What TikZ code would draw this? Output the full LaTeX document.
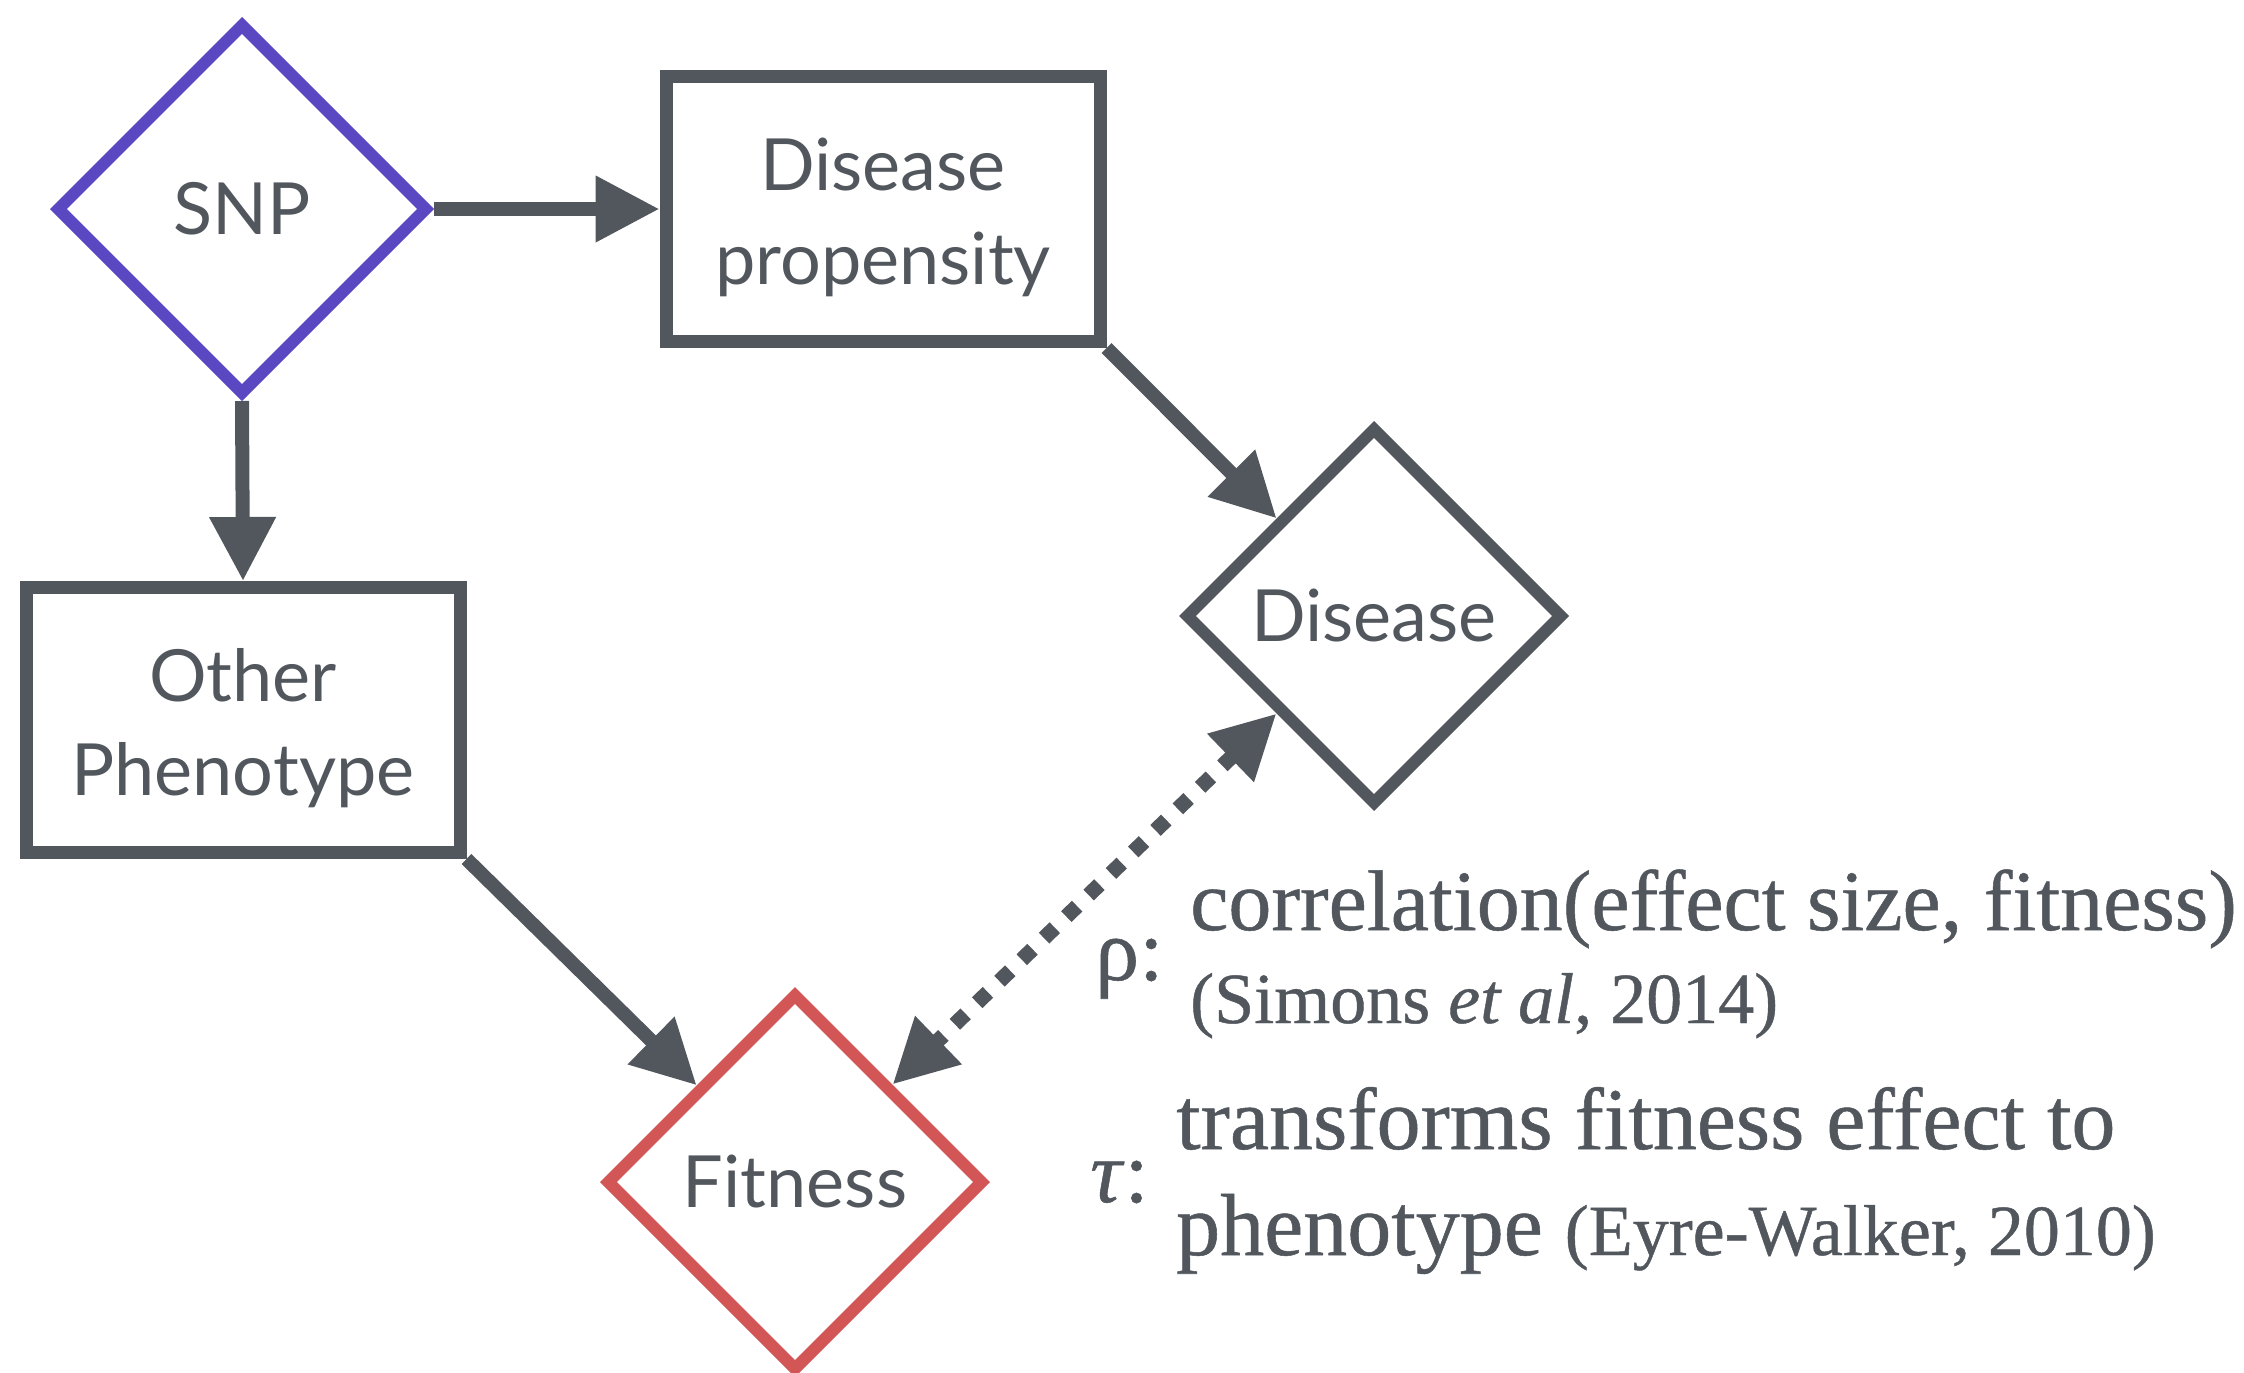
\documentclass[tikz,border=0pt]{standalone}
\usepackage{fontspec}
\setsansfont{Lato}
\newfontfamily\seriffont[FakeBold=0.6]{Liberation Serif}
\usetikzlibrary{shapes.geometric,arrows.meta}
\definecolor{ink}{HTML}{52575E}
\definecolor{snpc}{HTML}{5A47C2}
\definecolor{fitc}{HTML}{D25656}
\begin{document}
\begin{tikzpicture}[x=1pt,y=-1pt,
  lbl/.style={font=\sffamily\fontsize{72}{94}\selectfont, text=ink, align=center},
  dia/.style={lbl, diamond, aspect=1, draw, line width=12pt, inner sep=0pt, minimum width=372pt, minimum height=372pt},
  boxn/.style={lbl, rectangle, draw=ink, line width=13pt, minimum width=434pt, minimum height=265pt, inner sep=0pt, text height=164pt},
  conn/.style={draw=ink, line width=14pt, -{Triangle[length=64pt,width=63pt]}},
  dotc/.style={draw=ink, line width=15pt, dash pattern=on 15pt off 16pt, {Triangle[length=64pt,width=63pt]}-{Triangle[length=64pt,width=63pt]}},
  big/.style={inner sep=0pt, anchor=base west, text=ink, font=\seriffont\fontsize{88}{100}\selectfont},
  small/.style={inner sep=0pt, anchor=base west, text=ink, font=\seriffont\fontsize{72}{84}\selectfont},
]
\useasboundingbox (0,0) rectangle (2244,1373);
\node[dia, draw=snpc] (snp) at (242,209) {SNP};
\node[boxn] (dp) at (883,209) {Disease\\propensity};
\node[boxn] (op) at (243,720) {Other\\Phenotype};
\node[dia, draw=ink, minimum width=378pt, minimum height=378pt] (dis) at (1374,616) {Disease};
\node[dia, draw=fitc, minimum width=378pt, minimum height=378pt] (fit) at (795,1182) {Fitness};

\draw[conn] (snp.east) -- (dp.west);
\draw[conn] (snp.south) -- (op.north);
\draw[conn] (dp.south east) -- (dis);
\draw[conn] (op.south east) -- (fit);
\draw[dotc] (dis.south west) -- (fit.north east);

\node[big] (rho) at (1095,980) {ρ:};
\node[big, font=\seriffont\fontsize{86}{100}\selectfont] (t1) at (1190,930) {correlation(effect size, fitness)};
\node[small] (t2) at (1190,1023) {(Simons \textit{et al}, 2014)};
\node[big] (tau) at (1090,1202) {\textit{τ}:};
\node[big] (t3) at (1176,1149) {transforms fitness effect to};
\node[big] (t4) at (1176,1255) {phenotype {\fontsize{72}{84}\selectfont (Eyre-Walker, 2010)}};
\end{tikzpicture}
\end{document}
